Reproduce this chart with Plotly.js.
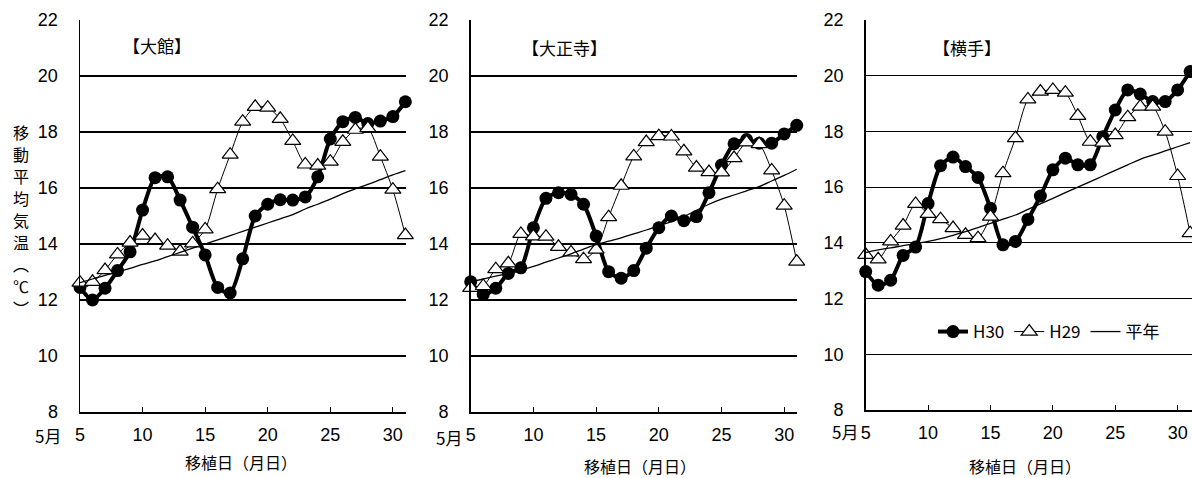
<!DOCTYPE html>
<html>
<head>
<meta charset="utf-8">
<script src="https://cdn.plot.ly/plotly-3.0.1.min.js"></script>
<style>html,body{margin:0;padding:0;background:#fff;overflow:hidden;}#chart{width:1192px;height:478px;}</style>
</head>
<body>
<div id="chart"></div>
<script>
// ---- data ----
const days = [5,6,7,8,9,10,11,12,13,14,15,16,17,18,19,20,21,22,23,24,25,26,27,28,29,30,31];
const xTickVals = [5,10,15,20,25,30];
const yTickVals = [8,10,12,14,16,18,20,22];
const seriesNames = ["H30", "H29", "平年"];
const panelTitles = ["【大館】", "【大正寺】", "【横手】"];
const yTitleChars = ["移","動","平","均","気","温","︵","℃","︶"];

// 大館
const odate_H30 = [12.45,12.0,12.42,13.05,13.72,15.21,16.37,16.4,15.57,14.6,13.61,12.45,12.25,13.47,15.0,15.42,15.58,15.57,15.68,16.4,17.75,18.37,18.52,18.3,18.39,18.55,19.08];
const odate_H29 = [12.62,12.65,13.07,13.63,14.05,14.3,14.14,13.94,13.73,14.02,14.52,15.96,17.19,18.37,18.9,18.87,18.47,17.68,16.84,16.8,16.94,17.65,18.08,18.14,17.12,15.94,14.32];
const odate_avg = [12.62,12.75,12.88,13.0,13.13,13.27,13.4,13.55,13.7,13.85,14.0,14.15,14.3,14.45,14.6,14.75,14.9,15.05,15.25,15.42,15.6,15.8,15.97,16.13,16.3,16.47,16.62];

// 大正寺
const taishoji_H30 = [12.65,12.2,12.42,12.95,13.15,14.58,15.63,15.83,15.77,15.42,14.29,13.01,12.78,13.05,13.85,14.58,15.0,14.83,14.98,15.83,16.82,17.58,17.73,17.6,17.6,17.93,18.24];
const taishoji_H29 = [12.43,12.5,13.1,13.31,14.36,14.27,14.26,13.9,13.7,13.46,13.8,14.96,16.08,17.13,17.64,17.85,17.84,17.31,16.73,16.57,16.56,17.07,17.63,17.57,16.63,15.37,13.37];
const taishoji_avg = [12.65,12.75,12.85,12.96,13.07,13.2,13.35,13.5,13.65,13.82,13.98,14.1,14.22,14.36,14.5,14.65,14.8,14.98,15.2,15.42,15.6,15.75,15.9,16.05,16.25,16.45,16.67];

// 横手
const yokote_H30 = [12.97,12.48,12.66,13.55,13.85,15.41,16.77,17.08,16.74,16.35,15.24,13.93,14.05,14.84,15.68,16.62,17.04,16.8,16.8,17.81,18.77,19.49,19.34,19.07,19.07,19.49,20.15];
const yokote_H29 = [13.57,13.41,14.05,14.62,15.4,15.04,14.85,14.53,14.29,14.17,14.94,16.5,17.76,19.15,19.43,19.49,19.39,18.56,17.63,17.6,17.87,18.51,18.89,18.89,17.99,16.4,14.35];
const yokote_avg = [13.65,13.75,13.82,13.9,13.97,14.05,14.15,14.27,14.4,14.55,14.7,14.85,15.0,15.2,15.4,15.6,15.8,16.0,16.2,16.4,16.6,16.8,17.0,17.15,17.3,17.45,17.6];

// ---- layout helpers ----
const W = 1192, H = 478;
const px = v => v / W;
const py = v => 1 - v / H;
const FONT = '"Noto Sans CJK JP", "Noto Sans", sans-serif';
const NUMFONT = '"Liberation Sans", Arial, sans-serif';

const panels = [
  {h30: odate_H30, h29: odate_H29, avg: odate_avg, x0: 80, x1: 406, y0: 20, y1: 412, xmax: 31.05},
  {h30: taishoji_H30, h29: taishoji_H29, avg: taishoji_avg, x0: 470.7, x1: 797, y0: 20, y1: 412, xmax: 31.02},
  {h30: yokote_H30, h29: yokote_H29, avg: yokote_avg, x0: 865.7, x1: 1192, y0: 20, y1: 410, xmax: 31.15}
];

const traces = [];
const layout = {
  width: W, height: H,
  margin: {l: 0, r: 0, t: 0, b: 0, pad: 0, autoexpand: false},
  paper_bgcolor: '#fff', plot_bgcolor: 'rgba(0,0,0,0)',
  font: {family: FONT, size: 17, color: '#000'},
  showlegend: true,
  legend: {
    orientation: 'h', x: px(933), y: py(332), xanchor: 'left', yanchor: 'middle',
    bgcolor: 'rgba(0,0,0,0)', font: {family: FONT, size: 17, color: '#000'},
    itemwidth: 30, traceorder: 'normal'
  },
  annotations: []
};

panels.forEach((p, i) => {
  const n = i + 1;
  const xa = 'x' + (n === 1 ? '' : n), ya = 'y' + (n === 1 ? '' : n);
  const showLeg = (i === 2);
  traces.push({
    x: days, y: p.h30, xaxis: xa, yaxis: ya, name: seriesNames[0], type: 'scatter', mode: 'lines+markers',
    line: {color: '#000', width: 4, shape: 'spline', smoothing: 0.7},
    marker: {symbol: 'circle', size: 13, color: '#000'},
    cliponaxis: false, showlegend: showLeg, legendgroup: 'a'
  });
  traces.push({
    x: days, y: p.h29, xaxis: xa, yaxis: ya, name: seriesNames[1], type: 'scatter', mode: 'lines+markers',
    line: {color: '#000', width: 1, shape: 'spline', smoothing: 0.7},
    marker: {symbol: 'triangle-up', size: 14, color: '#fff', line: {color: '#000', width: 1.2}},
    cliponaxis: false, showlegend: showLeg, legendgroup: 'b'
  });
  traces.push({
    x: days, y: p.avg, xaxis: xa, yaxis: ya, name: seriesNames[2], type: 'scatter', mode: 'lines',
    line: {color: '#000', width: 1.3, shape: 'spline'},
    cliponaxis: false, showlegend: showLeg, legendgroup: 'c'
  });

  layout['xaxis' + (n === 1 ? '' : n)] = {
    domain: [px(p.x0), px(p.x1)], anchor: ya, range: [5, p.xmax], automargin: false,
    tickvals: xTickVals, ticks: 'inside', ticklen: 5, tickwidth: 1, tickcolor: '#000',
    showline: true, linecolor: '#000', linewidth: 1.5, showgrid: false, zeroline: false,
    tickfont: {family: NUMFONT, size: 18, color: '#000'}, ticklabelstandoff: 6, fixedrange: true
  };
  layout['yaxis' + (n === 1 ? '' : n)] = {
    domain: [py(p.y1), py(p.y0)], anchor: xa, range: [8, 22], automargin: false,
    tickvals: yTickVals, ticks: '', showline: true, linecolor: '#000', linewidth: 1.5,
    showgrid: true, gridcolor: '#000', gridwidth: 1.2, zeroline: false,
    tickfont: {family: NUMFONT, size: 18, color: '#000'}, ticklabelstandoff: 17, fixedrange: true
  };
});

// panel titles
const titlePos = [[157, 45], [564, 47], [967, 47]];
panelTitles.forEach((t, i) => {
  layout.annotations.push({text: t, xref: 'paper', yref: 'paper', x: px(titlePos[i][0]), y: py(titlePos[i][1]),
    xanchor: 'center', yanchor: 'middle', showarrow: false, font: {family: FONT, size: 17, color: '#000'}});
});
// 5月 labels
const monthPos = [[48, 435], [449, 437], [845, 431]];
monthPos.forEach(m => {
  layout.annotations.push({text: '5月', xref: 'paper', yref: 'paper', x: px(m[0]), y: py(m[1]),
    xanchor: 'center', yanchor: 'middle', showarrow: false, font: {family: FONT, size: 17, color: '#000'}});
});
// x axis titles
const xtPos = [[241, 462], [640, 466], [1025, 466]];
xtPos.forEach(m => {
  layout.annotations.push({text: '移植日（月日）', xref: 'paper', yref: 'paper', x: px(m[0]), y: py(m[1]),
    xanchor: 'center', yanchor: 'middle', showarrow: false, borderpad: 0, font: {family: FONT, size: 16, color: '#000'}});
});
// y axis title (vertical, one character per line)
const yTitleY = [132, 154, 176, 198, 220, 242, 264, 286, 308];
yTitleChars.forEach((c, k) => {
  layout.annotations.push({text: c, xref: 'paper', yref: 'paper', x: px(21), y: py(yTitleY[k]),
    xanchor: 'center', yanchor: 'middle', showarrow: false, borderpad: 0,
    font: {family: FONT, size: 16, color: '#000'}});
});

Plotly.newPlot('chart', traces, layout, {staticPlot: true, displayModeBar: false});
</script>
</body>
</html>
